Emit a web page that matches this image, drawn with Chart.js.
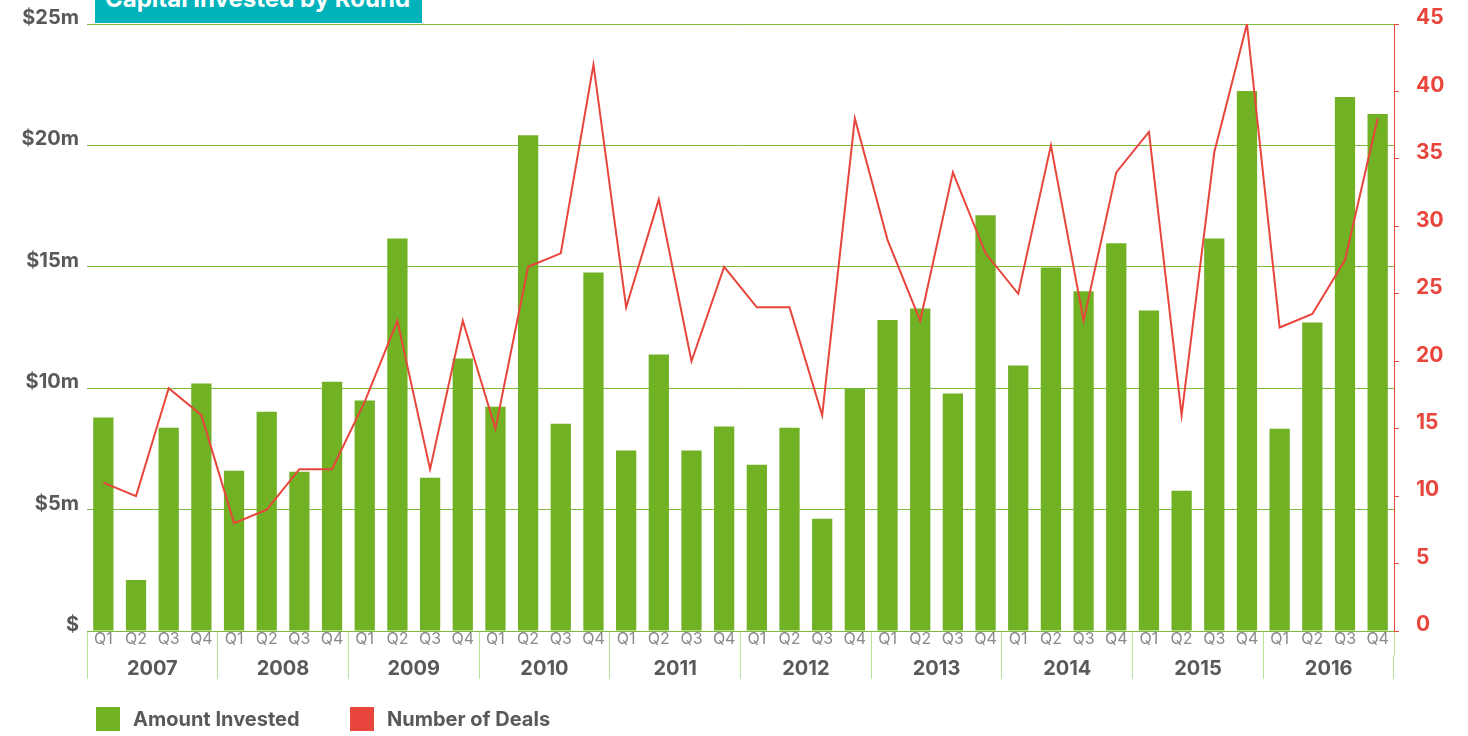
<!DOCTYPE html>
<html>
<head>
<meta charset="utf-8">
<script src="https://cdn.jsdelivr.net/npm/chart.js@4"></script>
<style>
  body { margin: 0; background: #fff; }
  #wrap { position: relative; width: 1468px; height: 736px; overflow: hidden; }
  #title {
    position: absolute; left: 95px; top: 0; width: 327px; height: 23px;
    background: #00b2b9; overflow: hidden;
  }
  #title span {
    position: absolute; left: 10px; bottom: 12px; white-space: nowrap;
    font: bold 24px/24px Inter, sans-serif; color: #fff;
  }
  #legend { position: absolute; left: 96px; top: 707px; font: bold 20px Inter, sans-serif; color: #58595b; }
  #legend .item { position: absolute; top: 0; white-space: nowrap; }
  #legend .box { position: absolute; left: 0; top: 0; width: 24px; height: 24px; }
  #legend .txt { position: absolute; left: 37px; top: 0; line-height: 24px; }
</style>
</head>
<body>
<div id="wrap">
  <canvas id="canvas" width="1468" height="736"></canvas>
  <div id="title"><span>Capital Invested by Round</span></div>
  <div id="legend"></div>
</div>
<script>
'use strict';

const years = ['2007', '2008', '2009', '2010', '2011', '2012', '2013', '2014', '2015', '2016'];
const quarters = ['Q1', 'Q2', 'Q3', 'Q4'];

// amount invested per quarter, $m
const amountInvested = [
  8.79, 2.10, 8.37, 10.19,
  6.60, 9.03, 6.56, 10.27,
  9.49, 16.17, 6.31, 11.22,
  9.24, 20.42, 8.54, 14.77,
  7.43, 11.39, 7.43, 8.42,
  6.85, 8.37, 4.62, 9.98,
  12.81, 13.28, 9.78, 17.12,
  10.93, 14.97, 13.99, 15.97,
  13.20, 5.78, 16.17, 22.24,
  8.33, 12.71, 21.99, 21.29
];

// number of deals per quarter
const numberOfDeals = [
  11, 10, 18, 16,
  8, 9, 12, 12,
  17, 23, 12, 23,
  15, 27, 28, 42,
  24, 32, 20, 27,
  24, 24, 16, 38,
  29, 23, 34, 28,
  25, 36, 23, 34,
  37, 16, 35.5, 45,
  22.5, 23.5, 27.5, 38
];

const GREEN = '#71b124';
const RED = '#e8453c';
const GRID = '#7db93a';
const SEP = '#bfe09b';
const GREY = '#58595b';
const FONT = 'Inter';

const quarterLabels = years.flatMap(() => quarters);

// keep the y axes from pushing the plot area in for their labels
const noLabelPadding = s => {
  s.paddingTop = 0;
  s.paddingBottom = 0;
};

const chart = new Chart(document.getElementById('canvas').getContext('2d'), {
  type: 'bar',
  data: {
    labels: quarterLabels,
    datasets: [
      {
        type: 'line',
        label: 'Number of Deals',
        data: numberOfDeals,
        yAxisID: 'y1',
        borderColor: RED,
        backgroundColor: RED,
        borderWidth: 2,
        pointRadius: 0,
        tension: 0,
        order: 0,
      },
      {
        label: 'Amount Invested',
        data: amountInvested,
        yAxisID: 'y',
        backgroundColor: GREEN,
        barPercentage: 0.62,
        categoryPercentage: 1,
        order: 1,
      },
    ],
  },
  options: {
    responsive: false,
    animation: false,
    layout: { padding: { top: 24, bottom: 57, left: 0, right: 0 } },
    plugins: {
      legend: { display: false },
      tooltip: { enabled: false },
    },
    scales: {
      x: {
        weight: 0,
        offset: true,
        border: { color: GRID, width: 1 },
        grid: {
          offset: true,
          drawOnChartArea: false,
          tickLength: 24,
          color: ctx => (ctx.type !== 'tick' || ctx.index % 4 === 0 ? SEP : 'rgba(0,0,0,0)'),
        },
        ticks: {
          padding: -25,
          color: '#8a8a8a',
          font: { family: FONT, size: 16 },
          maxRotation: 0,
          autoSkip: false,
        },
        afterFit: s => { s.height = 24; },
      },
      x2: {
        type: 'category',
        labels: years,
        position: 'bottom',
        weight: 1,
        offset: true,
        border: { display: false },
        grid: {
          offset: true,
          drawOnChartArea: false,
          tickLength: 24,
          color: SEP,
        },
        ticks: {
          padding: -22,
          color: GREY,
          font: { family: FONT, size: 20, weight: 'bold' },
          maxRotation: 0,
        },
        afterFit: s => { s.height = 24; },
      },
      y: {
        position: 'left',
        min: 0,
        max: 25,
        border: { display: false },
        grid: { color: GRID, lineWidth: 1, drawTicks: false },
        ticks: {
          stepSize: 5,
          padding: 8,
          labelOffset: -6,
          color: GREY,
          font: { family: FONT, size: 20, weight: 'bold' },
          callback: v => (v === 0 ? '$' : '$' + v + 'm'),
        },
        afterFit: s => {
          s.width = 87;
          noLabelPadding(s);
        },
      },
      y1: {
        position: 'right',
        min: 0,
        max: 45,
        border: { color: RED, width: 1 },
        grid: { drawOnChartArea: false, tickLength: 5, color: RED },
        ticks: {
          stepSize: 5,
          padding: 17,
          labelOffset: -6,
          color: RED,
          font: { family: FONT, size: 21, weight: 'bold' },
        },
        afterFit: s => {
          s.width = 74;
          noLabelPadding(s);
        },
      },
    },
  },
});

// legend below the plot
const legendEl = document.getElementById('legend');
const legendItems = [
  { text: 'Amount Invested', color: GREEN, left: 0 },
  { text: 'Number of Deals', color: RED, left: 254 },
];
legendItems.forEach(it => {
  const d = document.createElement('div');
  d.className = 'item';
  d.style.left = it.left + 'px';
  d.innerHTML = '<div class="box" style="background:' + it.color + '"></div><div class="txt">' + it.text + '</div>';
  legendEl.appendChild(d);
});
</script>
</body>
</html>
